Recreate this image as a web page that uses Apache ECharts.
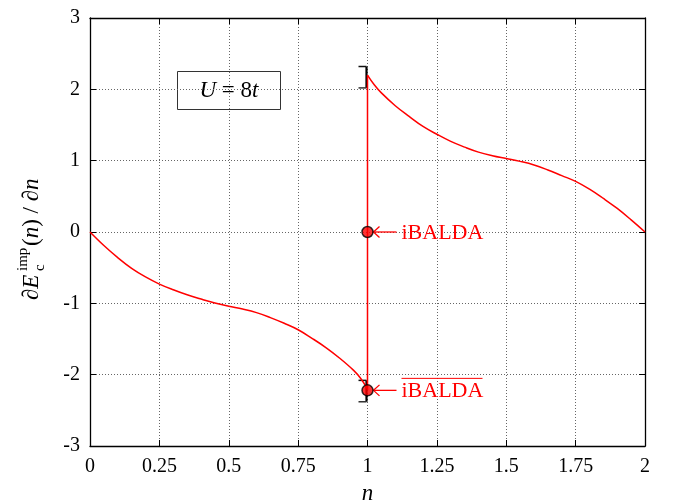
<!DOCTYPE html>
<html>
<head>
<meta charset="utf-8">
<script src="https://cdn.jsdelivr.net/npm/echarts@6/dist/echarts.min.js"></script>
<style>
  html, body { margin: 0; padding: 0; background: #fff; }
  #chart { width: 680px; height: 502px; }
</style>
</head>
<body>
<div id="chart"></div>
<script>
// curve for n < 1
var nLeft = [0, 0.05, 0.1, 0.15, 0.2, 0.25, 0.3, 0.35, 0.4, 0.45, 0.5, 0.55, 0.6, 0.65, 0.7, 0.75, 0.8, 0.85, 0.9, 0.95, 0.975, 1]
var eLeft = [0, -0.19, -0.36, -0.51, -0.63, -0.73, -0.81, -0.88, -0.94, -0.995, -1.04, -1.08, -1.13, -1.2, -1.28, -1.37, -1.49, -1.62, -1.77, -1.94, -2.05, -2.2]
// curve for n > 1
var nRight = [1, 1.025, 1.05, 1.1, 1.15, 1.2, 1.25, 1.3, 1.35, 1.4, 1.45, 1.5, 1.55, 1.6, 1.65, 1.7, 1.75, 1.8, 1.85, 1.9, 1.95, 2]
var eRight = [2.2, 2.06, 1.95, 1.77, 1.62, 1.48, 1.37, 1.27, 1.19, 1.12, 1.07, 1.03, 0.99, 0.94, 0.87, 0.79, 0.71, 0.6, 0.47, 0.33, 0.17, 0]
// vertical jump at n = 1
var jumpN = [1, 1]
var jumpE = [2.2, -2.22]
// iBALDA points
var dotN = [1, 1]
var dotE = [0, -2.22]
var dotLabels = ['iBALDA', 'iBALDA']
var dotOverline = [false, true]
// error bars
var errN = [1, 1]
var errLow = [2.02, -2.38]
var errHigh = [2.32, -2.08]

var xTickLabels = ['0', '0.25', '0.5', '0.75', '1', '1.25', '1.5', '1.75', '2']
var yTickLabels = ['-3', '-2', '-1', '0', '1', '2', '3']

var SERIF = '"Liberation Serif", "DejaVu Serif", serif'
var RED = '#ff0000'

function pairs(xs, ys) {
  return xs.map(function (x, i) { return [x, ys[i]] })
}

var chart = echarts.init(document.getElementById('chart'))

var tickStyle = { show: true, inside: true, length: 6, lineStyle: { color: '#000', width: 1 } }
var frameLine = { show: true, onZero: false, lineStyle: { color: '#000', width: 1.3 } }
var gridLine = { show: true, lineStyle: { color: '#666', width: 1, type: [1, 2] } }

chart.setOption({
  animation: false,
  grid: { left: 90, right: 35, top: 18, bottom: 56, outerBoundsMode: 'none', containLabel: false },
  xAxis: [{
    type: 'value',
    min: 0,
    max: 2,
    interval: 0.25,
    axisLine: frameLine,
    axisTick: tickStyle,
    splitLine: gridLine,
    axisLabel: {
      margin: 11,
      color: '#000',
      fontFamily: SERIF,
      fontSize: 20,
      formatter: function (v) { return xTickLabels[Math.round(v / 0.25)] }
    },
    name: 'n',
    nameLocation: 'middle',
    nameGap: 36,
    nameTextStyle: { fontFamily: SERIF, fontStyle: 'italic', fontSize: 23, color: '#000' }
  }, {
    type: 'value',
    position: 'top',
    min: 0,
    max: 2,
    interval: 0.25,
    axisLine: frameLine,
    axisTick: tickStyle,
    splitLine: { show: false },
    axisLabel: { show: false }
  }],
  yAxis: [{
    type: 'value',
    min: -3,
    max: 3,
    interval: 1,
    axisLine: frameLine,
    axisTick: tickStyle,
    splitLine: gridLine,
    axisLabel: {
      margin: 10,
      color: '#000',
      fontFamily: SERIF,
      fontSize: 20,
      formatter: function (v) { return yTickLabels[Math.round(v + 3)] }
    }
  }, {
    type: 'value',
    position: 'right',
    min: -3,
    max: 3,
    interval: 1,
    axisLine: frameLine,
    axisTick: tickStyle,
    splitLine: { show: false },
    axisLabel: { show: false }
  }],
  series: [{
    // error bars (drawn first, under the red lines)
    type: 'custom',
    z: 2,
    data: errN.map(function (n, i) { return [n, errLow[i], errHigh[i]] }),
    renderItem: function (params, api) {
      var lo = api.coord([api.value(0), api.value(1)])
      var hi = api.coord([api.value(0), api.value(2)])
      var x = lo[0] - 1
      return {
        type: 'group',
        children: [
          { type: 'line', shape: { x1: x, y1: lo[1], x2: x, y2: hi[1] }, style: { stroke: '#000', lineWidth: 2.2 } },
          { type: 'line', shape: { x1: x - 8, y1: lo[1], x2: x, y2: lo[1] }, style: { stroke: '#333', lineWidth: 1.5 } },
          { type: 'line', shape: { x1: x - 8, y1: hi[1], x2: x, y2: hi[1] }, style: { stroke: '#111', lineWidth: 1.5 } }
        ]
      }
    }
  }, {
    type: 'line',
    z: 3,
    data: pairs(nLeft, eLeft),
    smooth: 0.4,
    showSymbol: false,
    lineStyle: { color: RED, width: 1.5 }
  }, {
    type: 'line',
    z: 3,
    data: pairs(nRight, eRight),
    smooth: 0.4,
    showSymbol: false,
    lineStyle: { color: RED, width: 1.5 }
  }, {
    type: 'line',
    z: 3,
    data: pairs(jumpN, jumpE),
    showSymbol: false,
    lineStyle: { color: RED, width: 1.5 }
  }, {
    // arrows + labels
    type: 'custom',
    z: 4,
    data: pairs(dotN, dotE),
    renderItem: function (params, api) {
      var p = api.coord([api.value(0), api.value(1)])
      var x = p[0], y = p[1]
      var kids = [
        { type: 'line', shape: { x1: x + 6, y1: y, x2: x + 29, y2: y }, style: { stroke: RED, lineWidth: 1.3 } },
        { type: 'polyline', shape: { points: [[x + 12, y - 5.5], [x + 6, y], [x + 12, y + 5.5]] }, style: { stroke: RED, lineWidth: 1.3, fill: null } },
        { type: 'text', style: { text: dotLabels[params.dataIndex], x: x + 34, y: y + 1, fill: RED, font: '22px ' + SERIF, verticalAlign: 'middle', align: 'left' } }
      ]
      if (dotOverline[params.dataIndex]) {
        kids.push({ type: 'line', shape: { x1: x + 34, y1: y - 12, x2: x + 115, y2: y - 12 }, style: { stroke: RED, lineWidth: 1 } })
      }
      return { type: 'group', children: kids }
    }
  }, {
    type: 'scatter',
    z: 5,
    data: pairs(dotN, dotE),
    symbol: 'circle',
    symbolSize: 11,
    itemStyle: { color: RED, borderColor: '#000', borderWidth: 1.5 }
  }],
  graphic: [{
    type: 'group',
    left: 177,
    top: 71,
    children: [{
      type: 'rect',
      shape: { x: 0, y: 0, width: 103, height: 38 },
      style: { fill: '#fff', stroke: '#333', lineWidth: 1 }
    }, {
      type: 'text',
      x: 51.5,
      y: 19,
      style: {
        text: '{i|U} = 8{i|t}',
        font: '23px ' + SERIF,
        fill: '#000',
        align: 'center',
        verticalAlign: 'middle',
        rich: { i: { fontStyle: 'italic', fontSize: 23, fontFamily: SERIF } }
      }
    }]
  }, {
    // y-axis name: dE_c^imp(n)/dn, rotated
    type: 'group',
    x: 32,
    y: 232,
    rotation: Math.PI / 2,
    children: [
      { type: 'text', x: -68, y: 0, style: { text: '∂E', font: 'italic 23px ' + SERIF, fill: '#000', verticalAlign: 'middle' } },
      { type: 'text', x: -39, y: -9, style: { text: 'imp', font: '15px ' + SERIF, fill: '#000', verticalAlign: 'middle' } },
      { type: 'text', x: -39, y: 8, style: { text: 'c', font: '15px ' + SERIF, fill: '#000', verticalAlign: 'middle' } },
      {
        type: 'text', x: -14, y: 0,
        style: {
          text: '({i|n}) / ∂{i|n}',
          font: '23px ' + SERIF,
          fill: '#000',
          verticalAlign: 'middle',
          rich: { i: { fontStyle: 'italic', fontSize: 23, fontFamily: SERIF } }
        }
      }
    ]
  }]
})
</script>
</body>
</html>
